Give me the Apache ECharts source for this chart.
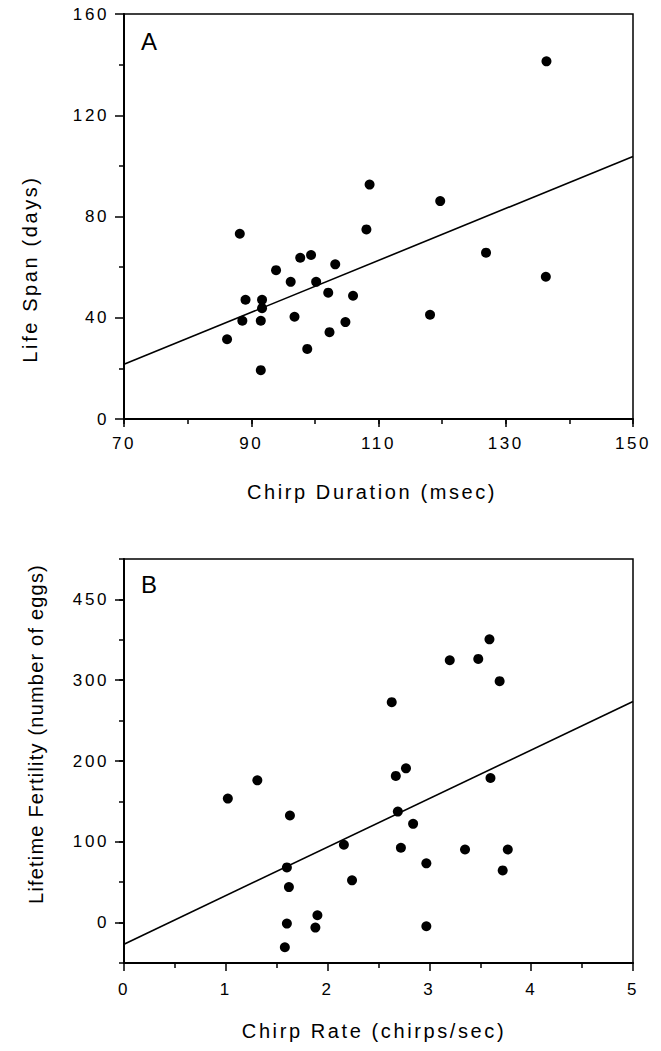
<!DOCTYPE html>
<html><head><meta charset="utf-8">
<script src="https://cdn.jsdelivr.net/npm/echarts@6.0.0/dist/echarts.min.js"></script>
<style>
html,body{margin:0;padding:0;background:#fff;}
#chart{width:661px;height:1051px;}
#chart text{letter-spacing:2.6px !important;}
</style></head><body><div id="chart"></div>
<script>
// Panel A: chirp duration (msec) vs life span (days)
const durA  = [136.4,108.6,119.7,88.2,108.1,126.9,99.4,97.7,103.2,93.9,96.2,100.2,136.3,102.1,106.0,89.1,91.7,91.7,96.8,118.1,88.6,91.5,104.8,102.3,86.2,98.8,91.5];
const lifeA = [141.3,92.6,86.1,73.2,74.9,65.7,64.8,63.7,61.1,58.8,54.2,54.2,56.2,49.9,48.7,47.1,47.1,43.8,40.4,41.2,38.8,38.8,38.3,34.3,31.5,27.7,19.3];
const fitA  = [[70,21.6],[150,103.7]];
// Panel B: chirp rate (chirps/sec) vs lifetime fertility (eggs)
const rateB = [3.59,3.20,3.48,3.69,2.63,2.77,2.67,3.60,1.31,1.02,1.63,2.69,2.84,2.16,2.72,3.35,3.77,2.97,3.72,1.60,2.24,1.62,1.90,1.60,1.88,2.97,1.58];
const fertB = [350.6,324.7,326.3,298.8,272.8,190.9,181.5,179.0,176.1,153.5,132.5,137.4,122.2,96.3,92.6,90.5,90.5,73.3,64.6,68.3,52.3,44.0,9.1,-1.2,-6.2,-4.5,-30.5];
const fitB  = [[0,-26.7],[5,273.7]];
// Tick labels
const xTicksA = ['70','90','110','130','150'];
const yTicksA = ['0','40','80','120','160'];
const xTicksB = ['0','1','2','3','4','5'];
const yTickValsB = [0,100,200,300,400];
const yTicksB = ['0','100','200','300','450'];
const yStepsB = ['-50','0','50','100','150','200','250','300','350','400','450'];

const FF = '"Liberation Sans", Arial, Helvetica, sans-serif';
const BLACK = '#000';
const tickStyle = {color:BLACK, width:1.5};
const lineStyleAx = {color:BLACK, width:2};
const lbl = (extra) => Object.assign({color:BLACK, fontSize:17, fontFamily:FF}, extra);

const chart = echarts.init(document.getElementById('chart'), null, {renderer:'svg', width:661, height:1051});

function txt(text, x, y, rot, size, align, valign) {
  return {type:'text', x:x, y:y, rotation:rot, silent:true,
    style:{text:text, fill:BLACK, font: size+'px '+FF, fontSize:size, fontFamily:FF,
      align:align, textAlign:align, verticalAlign:valign, textVerticalAlign:valign}};
}

chart.setOption({
  animation:false,
  backgroundColor:'#fff',
  grid:[
    {left:124, top:14, width:509, height:405, show:true, borderColor:BLACK, borderWidth:1.5, backgroundColor:'transparent'},
    {left:124, top:559, width:509, height:404, show:true, borderColor:BLACK, borderWidth:1.5, backgroundColor:'transparent'}
  ],
  xAxis:[
    {gridIndex:0, type:'value', min:70, max:150, interval:10, position:'bottom',
      axisLine:{show:true, onZero:false, lineStyle:lineStyleAx},
      axisTick:{show:true, length:5, lineStyle:tickStyle},
      axisLabel:{show:false}, splitLine:{show:false}},
    {gridIndex:0, type:'value', min:0, max:80, interval:20, position:'bottom',
      axisLine:{show:false},
      axisTick:{show:true, length:8, lineStyle:tickStyle},
      axisLabel:lbl({margin:16, formatter:(v)=>xTicksA[Math.round(v/20)]}),
      splitLine:{show:false}},
    {gridIndex:1, type:'value', min:0, max:5, interval:1, position:'bottom',
      axisLine:{show:true, onZero:false, lineStyle:lineStyleAx},
      axisTick:{show:true, length:8, lineStyle:tickStyle},
      minorTick:{show:true, splitNumber:2, length:5, lineStyle:tickStyle},
      axisLabel:lbl({margin:18, formatter:(v)=>xTicksB[Math.round(v)]}),
      splitLine:{show:false}, minorSplitLine:{show:false}}
  ],
  yAxis:[
    {gridIndex:0, type:'value', min:0, max:160, interval:40, position:'left',
      axisLine:{show:true, onZero:false, lineStyle:lineStyleAx},
      axisTick:{show:true, length:9, lineStyle:tickStyle},
      minorTick:{show:true, splitNumber:2, length:5, lineStyle:tickStyle},
      axisLabel:lbl({margin:15, formatter:(v)=>yTicksA[Math.round(v/40)]}),
      splitLine:{show:false}, minorSplitLine:{show:false}},
    {gridIndex:1, type:'value', min:-50, max:450, interval:50, position:'left',
      axisLine:{show:true, onZero:false, lineStyle:lineStyleAx},
      axisTick:{show:true, length:5, lineStyle:tickStyle},
      axisLabel:{show:false}, splitLine:{show:false}},
    {gridIndex:1, type:'category', data:yStepsB, boundaryGap:false, position:'left',
      axisLine:{show:false},
      axisTick:{show:true, length:9, lineStyle:tickStyle, interval:(i,v)=>yTickValsB.indexOf(+v)>=0},
      axisLabel:lbl({margin:15, interval:(i,v)=>yTickValsB.indexOf(+v)>=0,
        formatter:(v)=>{const k=yTickValsB.indexOf(+v); return k>=0?yTicksB[k]:'';}}),
      splitLine:{show:false}}
  ],
  series:[
    {type:'line', xAxisIndex:0, yAxisIndex:0, data:fitA, symbol:'none', silent:true,
      lineStyle:{color:BLACK, width:1.6}, z:2},
    {type:'scatter', xAxisIndex:0, yAxisIndex:0, data:durA.map((x,i)=>[x,lifeA[i]]),
      symbol:'circle', symbolSize:10, itemStyle:{color:BLACK, opacity:1}, z:3},
    {type:'line', xAxisIndex:2, yAxisIndex:1, data:fitB, symbol:'none', silent:true,
      lineStyle:{color:BLACK, width:1.6}, z:2},
    {type:'scatter', xAxisIndex:2, yAxisIndex:1, data:rateB.map((x,i)=>[x,fertB[i]]),
      symbol:'circle', symbolSize:10, itemStyle:{color:BLACK, opacity:1}, z:3}
  ],
  graphic:[
    txt('A', 141, 41, 0, 24, 'left', 'middle'),
    txt('B', 141, 584, 0, 24, 'left', 'middle'),
    txt('Life Span (days)', 30, 269, Math.PI/2, 20, 'center', 'middle'),
    txt('Chirp Duration (msec)', 372, 492, 0, 20, 'center', 'middle'),
    txt('Lifetime Fertility (number of eggs)', 36, 734, Math.PI/2, 20, 'center', 'middle'),
    txt('Chirp Rate (chirps/sec)', 374, 1031, 0, 20, 'center', 'middle')
  ]
});

document.querySelectorAll('#chart text').forEach(function(t){
  if (t.textContent.indexOf('Lifetime') === 0) t.style.setProperty('letter-spacing','1.2px','important');
});
</script></body></html>
